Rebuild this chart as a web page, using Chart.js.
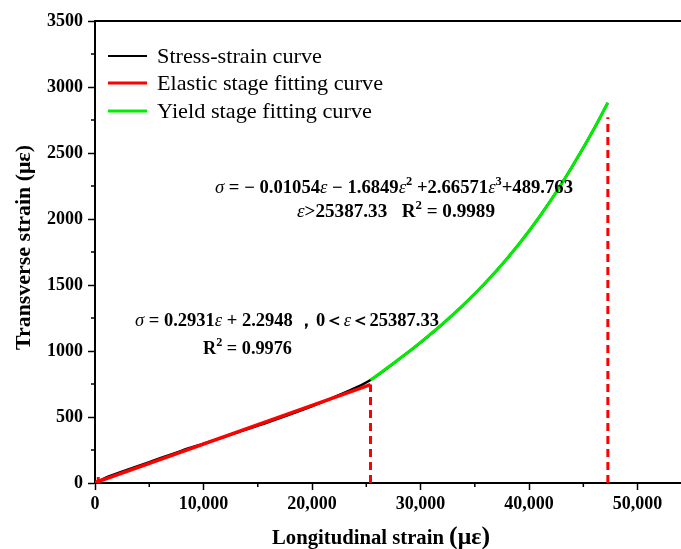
<!DOCTYPE html>
<html>
<head>
<meta charset="utf-8">
<script src="https://cdn.jsdelivr.net/npm/chart.js@4"></script>
<style>
  html, body { margin: 0; padding: 0; background: #fff; }
  canvas { display: block; }
</style>
</head>
<body>
<canvas id="curva" width="681" height="549"></canvas>
<script>
// Curva tensión-deformación medida (με)
const strainX = [0, 1000, 3000, 5000, 8000, 10000, 13000, 16000, 19000, 21000, 23000, 24500, 25387.33, 28000, 30000, 32000, 34000, 36000, 38000, 40000, 42000, 44000, 46000, 47250];
const strainY = [0, 40, 100, 158, 245, 298, 380, 462, 550, 615, 685, 740, 780, 937, 1065, 1203, 1353, 1519, 1703, 1909, 2141, 2401, 2685, 2880];

// Ajuste etapa elástica
const elasticX = [0, 25387.33];
const elasticY = [2.3, 746];

// Ajuste etapa de fluencia
const yieldX = [25387.33, 28000, 30000, 32000, 34000, 36000, 38000, 40000, 42000, 44000, 46000, 47250];
const yieldY = [780, 937, 1065, 1203, 1353, 1519, 1703, 1909, 2141, 2401, 2685, 2880];

// Líneas de referencia discontinuas
const limitX = [300, 25387.33, 47260];
const limitTop = [45, 746, 2770];

const seriesLabels = ['Stress-strain curve', 'Elastic stage fitting curve', 'Yield stage fitting curve'];
const seriesColors = ['#000000', '#ff0000', '#00ee00'];

const xMax = 54000, xStep = 10000, xMinor = 5000;
const yMax = 3500, yStep = 500, yMinor = 250;
const xTicks = [0, 10000, 20000, 30000, 40000, 50000];

const pts = (xs, ys) => xs.map((x, i) => ({ x, y: ys[i] }));

const datasets = [
  { label: seriesLabels[0], data: pts(strainX, strainY), borderColor: seriesColors[0], borderWidth: 2.5, cubicInterpolationMode: 'monotone', order: 5 },
  { label: seriesLabels[1], data: pts(elasticX, elasticY), borderColor: seriesColors[1], borderWidth: 3.5, order: 2 },
  { label: seriesLabels[2], data: pts(yieldX, yieldY), borderColor: seriesColors[2], borderWidth: 3, cubicInterpolationMode: 'monotone', order: 2 }
];
limitX.forEach((x, i) => {
  datasets.push({
    label: 'limit' + i,
    data: [{ x, y: 0 }, { x, y: limitTop[i] }],
    borderColor: '#ff0000', borderWidth: 3, borderDash: [8, 5], order: 1
  });
});

const SERIF = '"Liberation Serif", "Times New Roman", serif';

// texto con varios estilos, ajustado a un ancho dado
function drawRuns(ctx, runs, x, y, width) {
  let total = 0;
  runs.forEach(r => { ctx.font = r.f; r.w = ctx.measureText(r.t).width; total += r.w; });
  ctx.save();
  ctx.translate(x, y);
  ctx.scale(width / total, 1);
  ctx.fillStyle = '#000';
  ctx.textBaseline = 'alphabetic';
  ctx.textAlign = 'left';
  let cx = 0;
  runs.forEach(r => {
    ctx.font = r.f;
    ctx.fillText(r.t, cx, r.dy || 0);
    cx += r.w;
  });
  ctx.restore();
}

const B = '700 18px ' + SERIF, I = 'italic 18px ' + SERIF, S = '700 12px ' + SERIF;

const extras = {
  id: 'extras',
  afterDraw(chart) {
    const { ctx, chartArea: a, scales: { x, y } } = chart;
    ctx.save();
    // borde superior
    ctx.strokeStyle = '#000';
    ctx.lineWidth = 2;
    ctx.beginPath();
    ctx.moveTo(a.left - 1, a.top);
    ctx.lineTo(a.right, a.top);
    ctx.stroke();
    // marcas menores
    ctx.lineWidth = 1.5;
    ctx.beginPath();
    for (let v = xMinor; v < xMax; v += xStep) {
      const px = x.getPixelForValue(v);
      ctx.moveTo(px, a.bottom); ctx.lineTo(px, a.bottom + 4);
    }
    for (let v = yMinor; v < yMax; v += yStep) {
      const py = y.getPixelForValue(v);
      ctx.moveTo(a.left, py); ctx.lineTo(a.left - 4, py);
    }
    ctx.stroke();

    // leyenda
    const rows = [56, 83, 111];
    const widths = [165, 226, 215];
    rows.forEach((ry, i) => {
      ctx.strokeStyle = seriesColors[i];
      ctx.lineWidth = i === 0 ? 2 : 3;
      ctx.beginPath();
      ctx.moveTo(108, ry); ctx.lineTo(147, ry);
      ctx.stroke();
      drawRuns(ctx, [{ t: seriesLabels[i], f: '400 22px ' + SERIF }], 157, ry + 7, widths[i]);
    });

    // ecuaciones de ajuste
    drawRuns(ctx, [
      { t: 'σ', f: I }, { t: ' = − 0.01054', f: B }, { t: 'ε', f: I }, { t: ' − 1.6849', f: B },
      { t: 'ε', f: I }, { t: '2', f: S, dy: -8 }, { t: ' +2.66571', f: B }, { t: 'ε', f: I },
      { t: '3', f: S, dy: -8 }, { t: '+489.763', f: B }
    ], 215, 193, 358);
    drawRuns(ctx, [
      { t: 'ε', f: I }, { t: '>25387.33   R', f: B }, { t: '2', f: S, dy: -8 }, { t: ' = 0.9989', f: B }
    ], 297, 217, 198);
    drawRuns(ctx, [
      { t: 'σ', f: I }, { t: ' = 0.2931', f: B }, { t: 'ε', f: I }, { t: ' + 2.2948 ，0＜', f: B },
      { t: 'ε', f: I }, { t: '＜25387.33', f: B }
    ], 135, 326, 304);
    drawRuns(ctx, [
      { t: 'R', f: B }, { t: '2', f: S, dy: -8 }, { t: ' = 0.9976', f: B }
    ], 203, 354, 89);

    // títulos de ejes
    const T = '700 20px ' + SERIF, P = '700 25px ' + SERIF;
    drawRuns(ctx, [
      { t: 'Longitudinal strain ', f: T }, { t: '(', f: P }, { t: 'με', f: '700 23px ' + SERIF }, { t: ')', f: P }
    ], 272, 544, 218);
    ctx.save();
    ctx.translate(29.5, 350);
    ctx.rotate(-Math.PI / 2);
    drawRuns(ctx, [
      { t: 'Transverse strain ', f: T }, { t: '(', f: T }, { t: 'με', f: T }, { t: ')', f: T }
    ], 0, 0, 205);
    ctx.restore();
    ctx.restore();
  }
};

new Chart(document.getElementById('curva'), {
  type: 'line',
  data: { datasets },
  options: {
    responsive: false,
    animation: false,
    layout: { padding: { top: 21, right: 0, left: 0, bottom: 0 } },
    elements: { point: { radius: 0 }, line: { tension: 0 } },
    plugins: { legend: { display: false }, tooltip: { enabled: false } },
    scales: {
      x: {
        type: 'linear', min: 0, max: xMax,
        afterFit: s => { s.height = 66; },
        afterBuildTicks: s => { s.ticks = xTicks.map(value => ({ value })); },
        grid: { drawOnChartArea: false, drawTicks: true, tickLength: 7, tickWidth: 1.5, tickColor: '#000' },
        border: { display: true, color: '#000', width: 2 },
        ticks: {
          padding: 4, color: '#000',
          font: { family: SERIF, size: 18, weight: '700' },
          callback: v => v.toLocaleString('en-US'),
          maxRotation: 0, autoSkip: false
        }
      },
      y: {
        type: 'linear', min: 0, max: yMax,
        afterFit: s => { s.width = 95; },
        grid: { drawOnChartArea: false, drawTicks: true, tickLength: 7, tickWidth: 1.5, tickColor: '#000' },
        border: { display: true, color: '#000', width: 2 },
        ticks: {
          stepSize: yStep, padding: 5, color: '#000',
          font: { family: SERIF, size: 18, weight: '700' },
          callback: v => String(v)
        }
      }
    }
  },
  plugins: [extras]
});
</script>
</body>
</html>
